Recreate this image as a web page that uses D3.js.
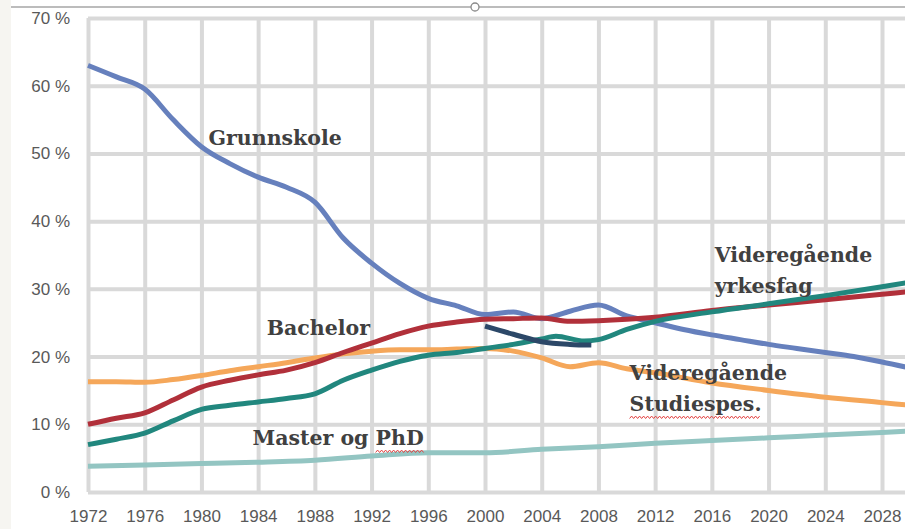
<!DOCTYPE html>
<html>
<head>
<meta charset="utf-8">
<script src="https://cdn.jsdelivr.net/npm/d3@7"></script>
<style>
  body { margin: 0; background: #fff; }
  svg { display: block; }
  .tick text { font-family: "Liberation Sans", Arial, sans-serif; font-size: 17px; fill: #595959; }
  .note { font-family: "DejaVu Serif", Georgia, serif; font-weight: bold; font-size: 20.5px; fill: #404040; }
</style>
</head>
<body>
<script>
// values, in percent
var grunnskole = [[1972,63],[1974,61.3],[1976,59.5],[1978,55],[1980,51],[1982,48.5],[1984,46.5],[1986,45],
  [1988,42.8],[1990,37.5],[1992,33.8],[1994,30.8],[1996,28.6],[1998,27.5],[2000,26.2],[2002,26.6],
  [2004,25.6],[2006,26.7],[2008,27.6],[2010,26],[2012,25],[2014,24],[2016,23.2],[2018,22.5],
  [2020,21.8],[2022,21.2],[2024,20.6],[2026,20],[2028,19.2],[2030,18.3]];
var grunnskoleOld = [[2000,24.5],[2002,23.3],[2004,22.2],[2006,21.8],[2007.5,21.7]];
var bachelor = [[1972,10],[1974,10.9],[1976,11.7],[1978,13.6],[1980,15.5],[1982,16.5],[1984,17.3],
  [1986,18],[1988,19.1],[1990,20.6],[1992,22],[1994,23.4],[1996,24.5],[1998,25.1],[2000,25.5],
  [2002,25.6],[2004,25.7],[2006,25.2],[2008,25.3],[2010,25.5],[2012,25.8],[2016,26.8],[2020,27.6],
  [2024,28.4],[2028,29.2],[2030,29.6]];
var yrkesfag = [[1972,7],[1974,7.8],[1976,8.7],[1978,10.5],[1980,12.2],[1982,12.8],[1984,13.3],
  [1986,13.8],[1988,14.5],[1990,16.5],[1992,18],[1994,19.3],[1996,20.2],[1998,20.6],[2000,21.2],
  [2002,21.8],[2004,22.6],[2005,23],[2007,22.3],[2008,22.5],[2010,24],[2012,25.2],[2016,26.6],
  [2020,27.8],[2024,29],[2028,30.3],[2030,31]];
var studiespes = [[1972,16.3],[1974,16.3],[1976,16.2],[1978,16.6],[1980,17.2],[1982,17.9],[1984,18.5],
  [1986,19.1],[1988,19.8],[1990,20.4],[1992,20.8],[1994,21],[1996,21],[1998,21.1],[2000,21.2],
  [2002,20.8],[2004,19.8],[2006,18.5],[2008,19.1],[2010,18.2],[2012,17.6],[2016,16.1],[2020,15],
  [2024,14],[2028,13.2],[2030,12.8]];
var masterPhd = [[1972,3.8],[1976,4],[1980,4.2],[1984,4.4],[1988,4.7],[1992,5.3],[1996,5.8],
  [2000,5.8],[2004,6.3],[2008,6.7],[2012,7.2],[2016,7.6],[2020,8],[2024,8.4],[2028,8.8],[2030,9]];

var xTicks = d3.range(1972, 2029, 4);
var yTicks = d3.range(0, 71, 10);

var series = [
  {name: 'Master og PhD', data: masterPhd, color: '#93c5c2'},
  {name: 'Studiespes.', data: studiespes, color: '#f5a75a'},
  {name: 'Grunnskole', data: grunnskole, color: '#6680bd'},
  {name: 'Bachelor', data: bachelor, color: '#b1303a'},
  {name: 'Yrkesfag', data: yrkesfag, color: '#21877e'},
  {name: 'Grunnskole (gammel)', data: grunnskoleOld, color: '#2c4868'}
];

// annotations placed at a (year, value) spot
var notes = [
  {lines: ['Grunnskole'], year: 1980.5, value: 51.3},
  {lines: ['Bachelor'], year: 1984.6, value: 23.2},
  {lines: ['Master og PhD'], year: 1983.6, value: 6.9, wavy: [10, 3]},
  {lines: ['Videregående', 'yrkesfag'], year: 2016.2, value: 34},
  {lines: ['Videregående', 'Studiespes.'], year: 2010.2, value: 16.5, wavy: [0, 11]}
];

var W = 905, H = 529;
var svg = d3.select('body').append('svg').attr('width', W).attr('height', H);

// left strip and top ruler from the screenshot
svg.append('rect').attr('x', 0).attr('y', 0).attr('width', 11).attr('height', H).attr('fill', '#f6f5f1');
svg.append('line').attr('x1', 11).attr('x2', W).attr('y1', 7).attr('y2', 7)
  .attr('stroke', '#a6a6a6').attr('stroke-width', 1.5);
svg.append('circle').attr('cx', 475).attr('cy', 7).attr('r', 4)
  .attr('fill', '#fff').attr('stroke', '#8a8a8a').attr('stroke-width', 1.3);

var x = d3.scaleLinear().domain([1972, 2028]).range([88, 882]);
var y = d3.scaleLinear().domain([0, 70]).range([492, 18]);

// grid via axes
var gx = svg.append('g').attr('transform', 'translate(0,' + y(0) + ')')
  .call(d3.axisBottom(x).tickValues(xTicks).tickFormat(d3.format('d'))
    .tickSize(-(y(0) - y(70))).tickPadding(17));
var gy = svg.append('g').attr('transform', 'translate(' + x(1972) + ',0)')
  .call(d3.axisLeft(y).tickValues(yTicks).tickFormat(function(d) { return d + ' %'; })
    .tickSize(-(W - x(1972))).tickPadding(18));
[gx, gy].forEach(function(g) {
  g.select('.domain').remove();
  g.selectAll('.tick line').attr('stroke', '#d9d9d9').attr('stroke-width', 4);
});
gx.selectAll('.tick text').attr('dy', '0.75em');

var line = d3.line()
  .x(function(d) { return x(d[0]); })
  .y(function(d) { return y(d[1]); })
  .curve(d3.curveMonotoneX);

svg.append('g').selectAll('path').data(series).join('path')
  .attr('d', function(d) { return line(d.data); })
  .attr('fill', 'none')
  .attr('stroke', function(d) { return d.color; })
  .attr('stroke-width', 5)
  .attr('stroke-linejoin', 'round')
  .attr('stroke-linecap', 'butt');

// labels
notes.forEach(function(n) {
  n.lines.forEach(function(t, i) {
    var tx = svg.append('text').attr('class', 'note')
      .attr('x', x(n.year)).attr('y', y(n.value) + i * 31).text(t);
    if (n.wavy && i === n.lines.length - 1) {
      var node = tx.node();
      var x0 = x(n.year) + (n.wavy[0] > 0 ? node.getSubStringLength(0, n.wavy[0]) : 0);
      var len = node.getSubStringLength(n.wavy[0], n.wavy[1]);
      var yy = y(n.value) + i * 31 + 6;
      var pts = d3.range(0, Math.floor(len / 2) + 1).map(function(k) {
        return [x0 + k * 2, yy + (k % 2 ? -1.2 : 1.2)];
      });
      svg.append('path').attr('d', d3.line()(pts))
        .attr('fill', 'none').attr('stroke', '#e2403f').attr('stroke-width', 1);
    }
  });
});
</script>
</body>
</html>
